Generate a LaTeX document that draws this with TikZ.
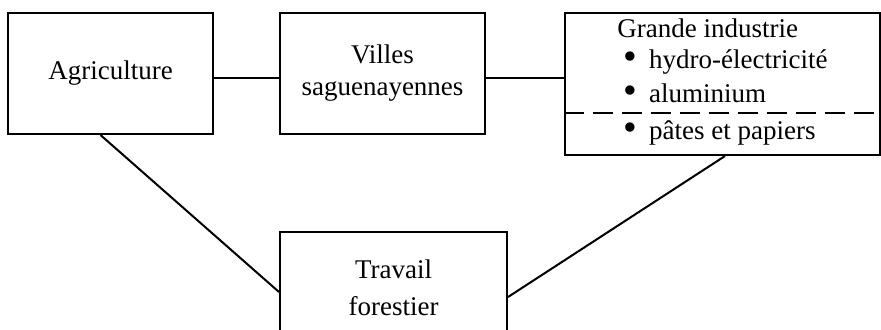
\documentclass[tikz,border=0pt]{standalone}
\usepackage{fontspec}
\setmainfont{Liberation Serif}
\usepackage{graphicx}
\newcommand{\puce}{\smash{\raisebox{-0.6pt}{\scalebox{1.45}{\textbullet}}}}

\begin{document}
\begin{tikzpicture}[
  x = 0.5pt, y = -0.5pt,
  every node/.style = {font = \fontsize{13.5}{16}\selectfont, inner sep = 0pt},
  box/.style = {draw, rectangle, line width = 1pt, align = center},
  item/.style = {anchor = base west, align = left},
  link/.style = {line width = 1pt},
  ]
  \useasboundingbox (0,0) rectangle (881,329);
  \node[box, minimum width = 102.5pt, minimum height = 60.5pt] (agri) at (110.5,73.5) {Agriculture};
  \node[box, minimum width = 102.5pt, minimum height = 60.5pt] (villes) at (382.5,73.5) {Villes\\saguenayennes};
  \node[box, minimum width = 157.5pt, minimum height = 71pt] (grande) at (722,84) {};
  \node[box, minimum width = 113.5pt, minimum height = 56pt,
        font = \fontsize{13.5}{18.5}\selectfont] (travail) at (393.5,288) {Travail\\forestier};
  \node[item, font = \fontsize{13.5}{15.5}\selectfont] (titre) at (617,102)
    {Grande industrie\\
     \hspace*{3pt}\puce\hspace{6pt}hydro-électricité\\[1.5pt]
     \hspace*{3pt}\puce\hspace{6pt}aluminium};
  \node[item] (pates) at (623,139) {\puce\hspace{6pt}pâtes et papiers};
  \coordinate (sep) at (0,113);
  \draw[link, dashed, dash pattern = on 10pt off 4.5pt] (grande.west |- sep) -- (grande.east |- sep);
  \draw[link] ([yshift = -2pt]agri.east) -- ([yshift = -2pt]villes.west);
  \draw[link] ([yshift = -2pt]villes.east) -- ([yshift = -2pt]villes.east -| grande.west);
  \draw[link] ([xshift = -5pt]agri.south) -- ([yshift = -2pt]travail.west);
  \draw[link] ([xshift = 1.5pt]grande.south) -- ([yshift = -4.5pt]travail.east);
\end{tikzpicture}
\end{document}
